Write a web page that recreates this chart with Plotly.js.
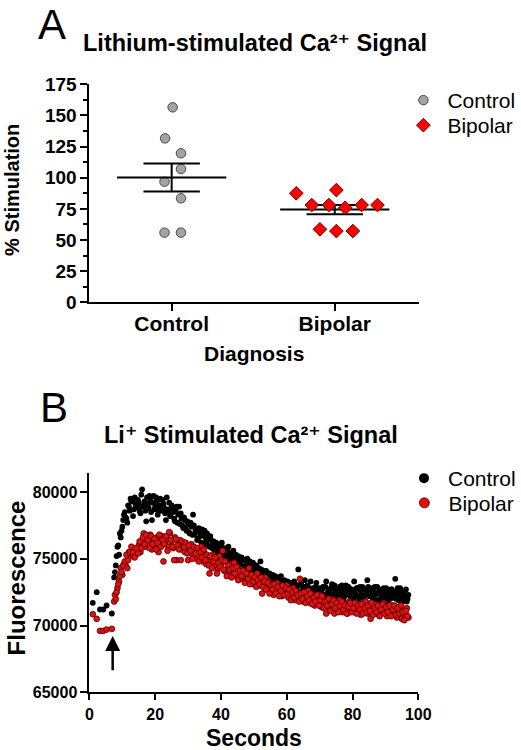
<!DOCTYPE html>
<html>
<head>
<meta charset="utf-8">
<script src="https://cdn.plot.ly/plotly-3.0.1.min.js"></script>
<style>html,body{margin:0;padding:0;background:#fff;}#chart{width:521px;height:750px;}</style>
</head>
<body>
<div id="chart"></div>
<script>
// ---------- Panel A data ----------
const groups = ['Control', 'Bipolar'];
const controlPct = [156.5, 131.6, 119.6, 107.0, 96.8, 83.5, 55.9, 55.9];
const controlX = [1.006, 0.96, 1.057, 1.057, 0.956, 1.057, 0.956, 1.057];
const bipolarPct = [87.5, 90.1, 78.1, 78.1, 75.9, 78.1, 78.1, 58.6, 57.2, 57.2];
const bipolarX = [1.764, 2.01, 1.859, 1.964, 2.064, 2.165, 2.262, 1.909, 2.01, 2.111];
const groupMean = [100.2, 74.4];
const groupSem = [11.2, 3.7];
const pctTicks = [0, 25, 50, 75, 100, 125, 150, 175];

// ---------- Panel B data ----------
const seconds = [1, 2.2, 3.2, 4.2, 5.2, 6.8,
7.5,8,8.5,9,9.5,10,10.5,11,11.5,12,
12.5,13,13.5,14,14.5,15,15.5,16,16.5,17,
17.5,18,18.5,19,19.5,20,20.5,21,21.5,22,
22.5,23,23.5,24,24.5,25,25.5,26,26.5,27,
27.5,28,28.5,29,29.5,30,30.5,31,31.5,32,
32.5,33,33.5,34,34.5,35,35.5,36,36.5,37,
37.5,38,38.5,39,39.5,40,40.5,41,41.5,42,
42.5,43,43.5,44,44.5,45,45.5,46,46.5,47,
47.5,48,48.5,49,49.5,50,50.5,51,51.5,52,
52.5,53,53.5,54,54.5,55,55.5,56,56.5,57,
57.5,58,58.5,59,59.5,60,60.5,61,61.5,62,
62.5,63,63.5,64,64.5,65,65.5,66,66.5,67,
67.5,68,68.5,69,69.5,70,70.5,71,71.5,72,
72.5,73,73.5,74,74.5,75,75.5,76,76.5,77,
77.5,78,78.5,79,79.5,80,80.5,81,81.5,82,
82.5,83,83.5,84,84.5,85,85.5,86,86.5,87,
87.5,88,88.5,89,89.5,90,90.5,91,91.5,92,
92.5,93,93.5,94,94.5,95,95.5,96,96.5,97,
7.75,8.25,8.75,9.25,9.75,10.25,10.75,11.25,11.75,12.25,
12.75,13.25,13.75,14.25,14.75,15.25,15.75,16.25,16.75,17.25,
17.75,18.25,18.75,19.25,19.75,20.25,20.75,21.25,21.75,22.25,
22.75,23.25,23.75,24.25,24.75,25.25,25.75,26.25,26.75,27.25,
27.75,28.25,28.75,29.25,29.75,30.25,30.75,31.25,31.75,32.25,
32.75,33.25,33.75,34.25,34.75,35.25,35.75,36.25,36.75,37.25,
37.75,38.25,38.75,39.25,39.75,40.25,40.75,41.25,41.75,42.25,
42.75,43.25,43.75,44.25,44.75,45.25,45.75,46.25,46.75,47.25,
47.75,48.25,48.75,49.25,49.75,50.25,50.75,51.25,51.75,52.25,
52.75,53.25,53.75,54.25,54.75,55.25,55.75,56.25,56.75,57.25,
57.75,58.25,58.75,59.25,59.75,60.25,60.75,61.25,61.75,62.25,
62.75,63.25,63.75,64.25,64.75,65.25,65.75,66.25,66.75,67.25,
67.75,68.25,68.75,69.25,69.75,70.25,70.75,71.25,71.75,72.25,
72.75,73.25,73.75,74.25,74.75,75.25,75.75,76.25,76.75,77.25,
77.75,78.25,78.75,79.25,79.75,80.25,80.75,81.25,81.75,82.25,
82.75,83.25,83.75,84.25,84.75,85.25,85.75,86.25,86.75,87.25,
87.75,88.25,88.75,89.25,89.75,90.25,90.75,91.25,91.75,92.25,
92.75,93.25,93.75,94.25,94.75,95.25,95.75,96.25,96.75];

const controlFluor = [71700, 72500, 71200, 71200, 71500, 70900,
73600,74500,75900,75300,76600,77400,78300,78100,77700,78900,
79500,79300,78700,79100,78900,79200,78400,80200,79000,78600,
79600,78800,79400,77900,79700,78900,79300,78600,79500,78800,
79100,78400,79600,78700,78200,79000,78500,77800,78900,78300,
77600,78000,77300,77900,77100,77600,76900,77400,78300,76800,
77200,76500,77000,76200,76800,77100,76300,76600,75900,76400,
76000,75600,76200,75700,75300,75900,75500,75800,75100,75600,
74900,75400,75100,74700,75300,74800,75000,74500,74900,74300,
74800,75000,74200,74600,74000,74400,74100,73800,74300,74800,
73700,74100,73600,73900,73400,73800,73500,73200,73700,73300,
73000,73500,73100,72800,73300,72900,73200,72700,73000,72600,
73100,72800,74200,72500,73000,72700,73400,72400,72900,72600,
72300,72800,72500,73200,72200,72700,72400,72900,72100,73300,
72500,72200,72800,72300,73000,72600,72100,72900,72400,72700,
72200,73000,72500,72800,72100,72600,73300,72300,72800,72000,
72600,72900,72200,72700,73400,72400,72800,72100,72600,72300,
72900,71900,72500,72200,72800,72000,72600,72300,72000,72700,
72200,73500,72400,71900,72800,72100,72500,72200,71800,72300,
74000,75200,76000,76900,77100,77900,78500,78000,79000,78600,
79300,78200,79600,78900,79400,78600,79800,78900,79300,77800,
79100,79700,78500,79200,78700,79600,78300,79000,78600,79400,
78800,77900,78600,79200,78400,78800,78000,78600,77700,78900,
78400,77500,78100,77300,77800,77000,77700,76800,77500,77100,
76400,77300,76700,77200,76000,76600,76900,76000,76700,75800,
76300,75900,75400,76100,75600,76200,75200,75700,75400,75900,
75300,74800,75600,75000,74600,75200,74700,75100,74400,74900,
74500,74100,74800,74300,74700,73900,74500,74200,73700,74200,
74000,73400,74100,73600,73900,73300,73800,73500,73000,73600,
73200,73700,72900,73400,72700,73300,72800,73200,72500,73300,
72700,73000,72400,73100,72600,72900,72300,73000,72500,73300,
72700,72100,72900,72400,72800,72100,72700,72300,72900,72000,
72700,72400,73100,72000,72600,72300,72800,72200,73000,72000,
72600,72300,72900,72400,72700,72000,72500,72800,72200,72900,
72300,72700,71900,72500,72900,72200,72600,72400,72900,71900,
72400,72700,72100,72600,72300,72800,71800,72400,72700,72100,
72500,72000,72800,72300,72600,71800,72400,72700,72000];

const bipolarFluor = [70850, 70500, 69600, 69600, 69700, 69750,
71800,72000,72800,73300,74300,73800,74600,74500,74300,75500,
75200,75400,75700,75300,75800,76000,75500,76300,76900,75900,
76600,76200,76800,75700,76400,76000,76600,75500,76300,76700,
74800,76200,76500,75900,76900,76300,75800,76600,74900,76100,
76400,75700,76200,75500,76000,74900,75700,76100,75300,75800,
75000,75600,75200,75900,74800,75400,74600,75100,73900,74800,
75300,74500,74900,74200,75200,74600,75600,74100,74800,74300,
73800,74600,74100,74700,73700,74400,73900,74200,73500,74000,
73300,73800,74300,73600,73100,73700,73400,73900,73000,73500,
72400,73200,73600,72900,73300,72600,73100,72300,72800,73200,
72500,72900,72200,72700,72400,73000,72100,72600,72300,72800,
71900,72500,72100,73500,72300,71800,72400,72000,72600,71700,
72200,71900,71500,72100,71700,72300,71400,71900,71600,70900,
71800,71300,72000,71500,70900,71700,71200,71900,71400,71000,
71600,71300,70900,71800,71200,71500,71000,71700,71100,71400,
70800,71600,71200,71800,70900,71400,70500,71300,71000,71600,
71100,70800,71400,71000,71700,71200,70700,71300,71000,71500,
70900,71200,70600,71400,71000,70500,71200,70800,71300,70600,
72300,72500,73100,73700,74000,74500,74800,75300,74900,75500,
75900,75500,75100,75800,75400,76300,75800,76600,76100,76800,
76400,75800,76700,76100,76500,75700,76200,76800,75900,76400,
76100,76700,75600,77000,76400,75900,74900,76500,76000,75700,
74900,76300,75900,76200,75400,76000,75600,75000,75900,75400,
75800,74800,75500,75100,75700,74900,75300,74500,75200,74300,
74800,75100,73900,74700,74400,74900,74200,74800,73700,74500,
74200,73600,74300,73900,74400,73400,74100,73700,74100,73200,
73900,73500,73100,73800,73300,73600,72900,73400,73100,73600,
72900,73300,72700,73200,72400,73000,72700,73100,72400,72900,
72200,72600,73000,72300,72800,72400,72700,71900,72500,72100,
72600,72300,71800,72400,72000,72500,71700,72200,71900,72400,
71600,72100,71800,72300,71500,71900,72200,71300,71800,71500,
72000,71100,71600,71900,71300,71700,71000,71500,71800,71200,
71500,70900,71400,71700,71000,71300,71700,70900,71500,71200,
71600,70900,71300,71000,71500,71100,71700,70800,71300,71000,
71500,70700,71200,71600,70900,71400,71000,71500,70700,71200,
71500,70800,71300,70900,71500,71000,70400,71100,70700];

const fluorTicks = [65000, 70000, 75000, 80000];
const secTicks = [0, 20, 40, 60, 80, 100];
const stimulusTime = 7.05;

// ---------- layout helpers (pixel -> paper) ----------
const W = 521, H = 750;
const px = v => v / W;
const py = v => 1 - v / H;
const FONT = 'Liberation Sans, Arial, Helvetica, DejaVu Sans, sans-serif';

// mean + SEM lines built from groupMean / groupSem
const MEAN_HALF = 0.335, CAP_HALF = 0.173;
const semX = [], semY = [];
groupMean.forEach((m, i) => {
  const c = i + 1, s = groupSem[i];
  semX.push(c - MEAN_HALF, c + MEAN_HALF, null, c - CAP_HALF, c + CAP_HALF, null,
            c - CAP_HALF, c + CAP_HALF, null, c, c, null);
  semY.push(m, m, null, m + s, m + s, null, m - s, m - s, null, m - s, m + s, null);
});

const ctrlMarkerA = {symbol: 'circle', size: 9.5, color: '#a3a3a3', line: {color: '#4a4a4a', width: 1}};
const bipMarkerA = {symbol: 'diamond', size: 10.5, color: '#ff0000', line: {color: '#6a0000', width: 1}};
const ctrlMarkerB = {size: 5.8, color: '#000', line: {width: 0}};
const bipMarkerB = {size: 5.8, color: '#e41010', line: {color: '#4a0000', width: 0.8}};

const traces = [
  {x: controlX, y: controlPct, type: 'scatter', mode: 'markers', name: groups[0],
   xaxis: 'x', yaxis: 'y', legend: 'legend', marker: ctrlMarkerA},
  {x: semX, y: semY, type: 'scatter', mode: 'lines', showlegend: false, hoverinfo: 'skip',
   xaxis: 'x', yaxis: 'y', line: {color: '#000', width: 2}},
  {x: bipolarX, y: bipolarPct, type: 'scatter', mode: 'markers', name: groups[1],
   xaxis: 'x', yaxis: 'y', legend: 'legend2', marker: bipMarkerA},

  {x: seconds, y: controlFluor, type: 'scatter', mode: 'markers', showlegend: false,
   xaxis: 'x2', yaxis: 'y2', marker: ctrlMarkerB},
  {x: seconds, y: bipolarFluor, type: 'scatter', mode: 'markers', showlegend: false,
   xaxis: 'x2', yaxis: 'y2', marker: bipMarkerB},
  {x: [null], y: [null], type: 'scatter', mode: 'markers', name: groups[0], legend: 'legend3',
   xaxis: 'x2', yaxis: 'y2', marker: {size: 10, color: '#000'}},
  {x: [null], y: [null], type: 'scatter', mode: 'markers', name: groups[1], legend: 'legend4',
   xaxis: 'x2', yaxis: 'y2', marker: {size: 10, color: '#e41010', line: {color: '#4a0000', width: 0.8}}}
];

const axisCommon = {showline: true, linecolor: '#000', linewidth: 2, ticks: 'outside',
  tickcolor: '#000', tickwidth: 2, showgrid: false, zeroline: false, fixedrange: true};

function legendAt(symbolX, symbolY) {
  return {x: px(symbolX - 24), y: py(symbolY - 20), xanchor: 'left', yanchor: 'top',
    bgcolor: 'rgba(0,0,0,0)', itemwidth: 38, font: {size: 21, family: FONT}, tracegroupgap: 0};
}

const layout = {
  width: W, height: H, margin: {l: 0, r: 0, t: 0, b: 0},
  paper_bgcolor: '#fff', plot_bgcolor: '#fff',
  font: {family: FONT, color: '#000'},
  xaxis: Object.assign({}, axisCommon, {domain: [px(90), px(421)], range: [0.496, 2.514],
    anchor: 'y', tickmode: 'array', tickvals: [1, 2], ticktext: groups, ticklen: 7,
    ticklabelstandoff: -6,
    tickfont: {size: 21, weight: 'bold', family: FONT}}),
  yaxis: Object.assign({}, axisCommon, {domain: [py(302.3), py(84.3)], range: [0, 175],
    anchor: 'x', tickmode: 'array', tickvals: pctTicks, ticklen: 7,
    minor: {dtick: 12.5, ticks: 'outside', ticklen: 4, tickwidth: 2, tickcolor: '#000', showgrid: false},
    tickfont: {size: 19, weight: 'bold', family: FONT}}),
  xaxis2: Object.assign({}, axisCommon, {domain: [px(90), px(420.7)], range: [0, 100],
    anchor: 'y2', tickmode: 'array', tickvals: secTicks, ticklen: 6,
    tickfont: {size: 16, weight: 'bold', family: FONT}}),
  yaxis2: Object.assign({}, axisCommon, {domain: [py(692.3), py(473.3)], range: [65000, 81400],
    anchor: 'x2', tickmode: 'array', tickvals: fluorTicks, tickformat: 'd', ticklen: 7,
    tickfont: {size: 16, weight: 'bold', family: FONT}}),
  legend: legendAt(425.7, 100),
  legend2: legendAt(425.7, 125),
  legend3: legendAt(426.7, 478),
  legend4: legendAt(426.7, 502.7),
  annotations: [
    {text: 'A', xref: 'paper', yref: 'paper', x: px(37), y: 1, xanchor: 'left', yanchor: 'top',
     borderpad: 0, showarrow: false, font: {size: 42, family: FONT}},
    {text: 'B', xref: 'paper', yref: 'paper', x: px(38), y: py(407), xanchor: 'left', yanchor: 'middle',
     showarrow: false, font: {size: 42, family: FONT}},
    {text: 'Lithium-stimulated Ca\u00B2\u207A Signal', xref: 'paper', yref: 'paper', x: px(256), y: py(43),
     xanchor: 'center', yanchor: 'middle', showarrow: false, font: {size: 23.5, weight: 'bold', family: FONT}},
    {text: 'Li\u207A Stimulated Ca\u00B2\u207A Signal', xref: 'paper', yref: 'paper', x: px(252), y: py(435),
     xanchor: 'center', yanchor: 'middle', showarrow: false, font: {size: 23.5, weight: 'bold', family: FONT}},
    {text: '% Stimulation', xref: 'paper', yref: 'paper', x: px(12), y: py(190), textangle: -90,
     xanchor: 'center', yanchor: 'middle', showarrow: false, font: {size: 20, weight: 'bold', family: FONT}},
    {text: 'Diagnosis', xref: 'paper', yref: 'paper', x: px(255), y: py(353),
     xanchor: 'center', yanchor: 'middle', showarrow: false, font: {size: 21, weight: 'bold', family: FONT}},
    {text: 'Fluorescence', xref: 'paper', yref: 'paper', x: px(16.5), y: py(578), textangle: -90,
     xanchor: 'center', yanchor: 'middle', showarrow: false, font: {size: 24, weight: 'bold', family: FONT}},
    {text: 'Seconds', xref: 'paper', yref: 'paper', x: px(255), y: py(738),
     xanchor: 'center', yanchor: 'middle', showarrow: false, font: {size: 23, weight: 'bold', family: FONT}},
    {text: '', xref: 'x2', yref: 'y2', x: stimulusTime, y: 69210, axref: 'x2', ayref: 'y2',
     ax: stimulusTime, ay: 66540, showarrow: true, arrowhead: 2, arrowsize: 1.2, arrowwidth: 2.5,
     arrowcolor: '#000', standoff: 0}
  ]
};

Plotly.newPlot('chart', traces, layout, {staticPlot: true, displayModeBar: false});
</script>
</body>
</html>
